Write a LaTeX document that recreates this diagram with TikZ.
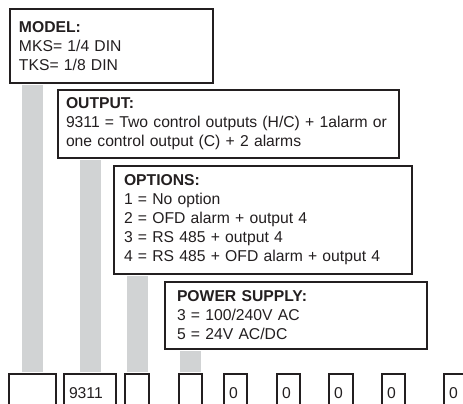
\documentclass[tikz,border=0pt]{standalone}
\usepackage{fontspec}
\setmainfont{Liberation Sans}
\usepackage{xcolor}
\usepackage{tikz}
\usetikzlibrary{positioning}

\definecolor{ink}{RGB}{35,31,32}
\definecolor{bargrey}{RGB}{209,211,212}

\begin{document}
\begin{tikzpicture}[
    x=1pt, y=-1pt,
    every node/.style={font=\fontsize{15.7}{19}\selectfont, text=ink},
    infobox/.style={draw=ink, line width=2pt, fill=white, anchor=north west, align=left, inner ysep=0pt},
    slot/.style={draw=ink, line width=2pt, anchor=north west, align=left, inner xsep=5pt, inner ysep=0pt,
                 text width=#1, text height=24pt, text depth=12pt},
    bar/.style={draw=bargrey, line width=21pt, shorten <=1pt, shorten >=1pt}
]
    \clip (0,0) rectangle (463,404);

    % the code fields
    \node[infobox, inner xsep=9pt, text width=185pt, minimum height=74pt]  (model)   at (9,8)
        {\textbf{MODEL:}\\MKS= 1/4 DIN\\TKS= 1/8 DIN};
    \node[infobox, inner xsep=8pt, text width=325pt, minimum height=68pt]  (output)  at (57,89)
        {\textbf{OUTPUT:}\\9311 = Two control outputs (H/C) + 1alarm or\\one control output (C) + 2 alarms};
    \node[infobox, inner xsep=10pt, text width=278pt, minimum height=108pt] (options) at (113,165)
        {\textbf{OPTIONS:}\\1 = No option\\2 = OFD alarm + output 4\\3 = RS 485 + output 4\\4 = RS 485 + OFD alarm + output 4};
    \node[infobox, inner xsep=12pt, text width=238pt, minimum height=67pt] (power)   at (164,281)
        {\textbf{POWER SUPPLY:}\\3 = 100/240V AC\\5 = 24V AC/DC};

    % the order code
    \node[slot=37pt] (d1) at (8,373)   {};
    \node[slot=42pt] (d2) at (63,373)  {9311};
    \node[slot=14pt] (d3) at (124,373) {};
    \node[slot=13pt] (d4) at (178,373) {};
    \node[slot=13pt] (d5) at (223,373) {0};
    \node[slot=13pt] (d6) at (276,373) {0};
    \node[slot=14pt] (d7) at (328,373) {0};
    \node[slot=13pt] (d8) at (381,373) {0};
    \node[slot=20pt] (d9) at (443,373) {0};

    \draw[bar] (d1.north) -- (d1.north |- model.south);
    \draw[bar] (d2.north) -- (d2.north |- output.south);
    \draw[bar] (d3.north) -- (d3.north |- options.south);
    \draw[bar] (d4.north) -- (d4.north |- power.south);
\end{tikzpicture}
\end{document}
